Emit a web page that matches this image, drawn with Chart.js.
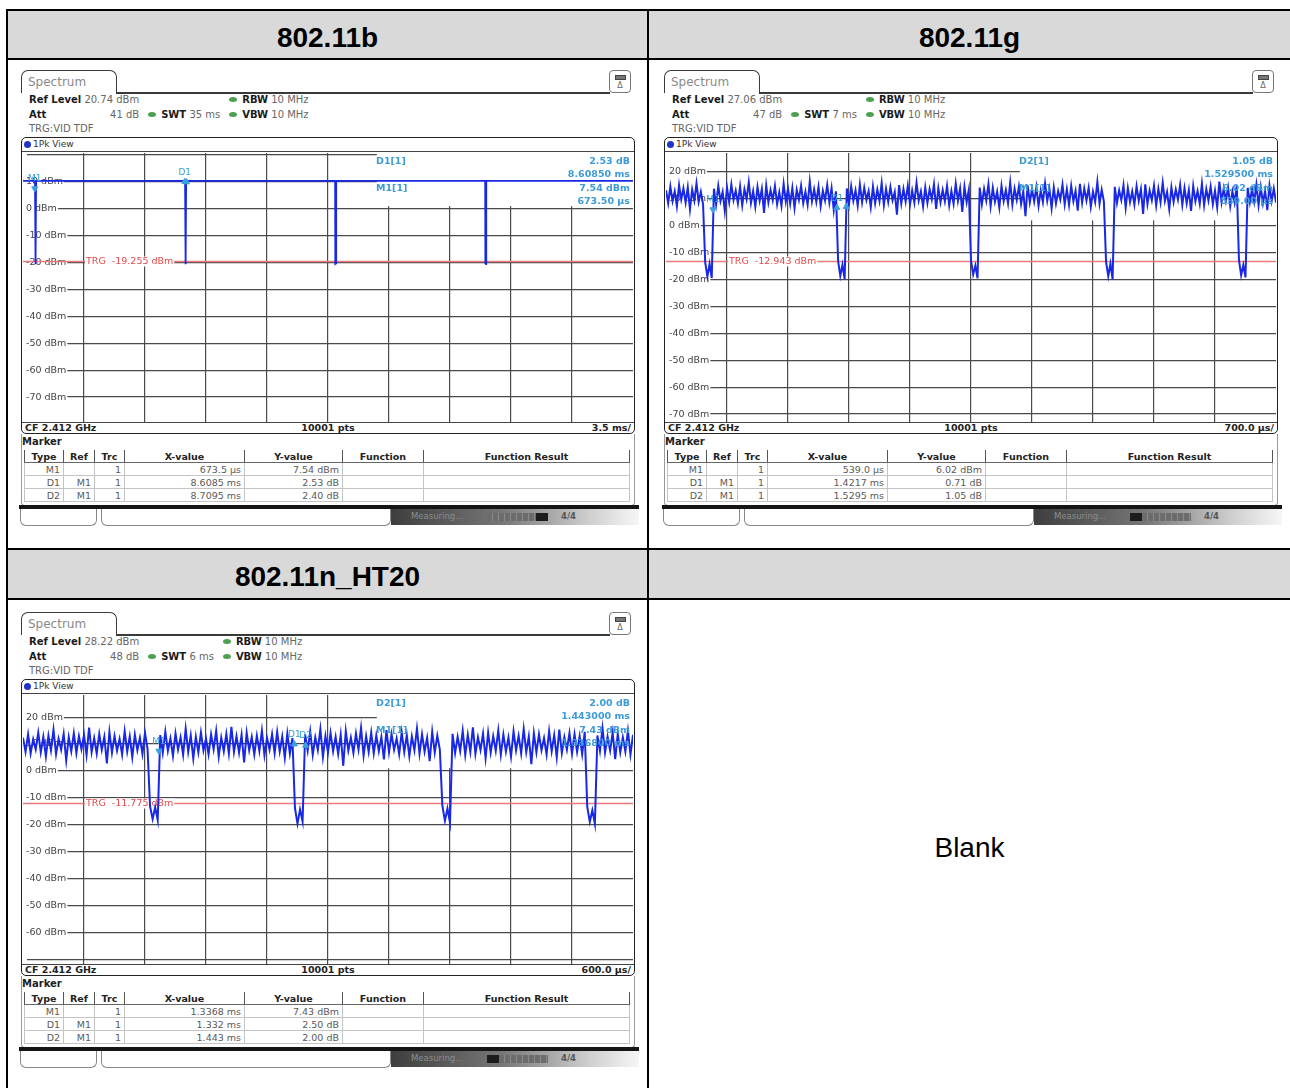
<!DOCTYPE html>
<html>
<head>
<meta charset="utf-8">
<title>WLAN duty cycle plots</title>
<script src="https://cdn.jsdelivr.net/npm/chart.js@4.4.1/dist/chart.umd.min.js"></script>
<style>
  body { margin:0; width:1290px; height:1088px; overflow:hidden; background:#fff; position:relative; font-family:"DejaVu Sans", sans-serif; }
  .bar { position:absolute; background:#000; }
  .head { position:absolute; background:#d9d9d9; text-align:center; font:bold 28px "Liberation Sans", Arial, sans-serif; color:#000; }
  .blank { position:absolute; text-align:center; font:28px "Liberation Sans", Arial, sans-serif; color:#000; }
  .panel { position:absolute; width:620px; height:462px; font-size:10px; color:#555; }
  .tab { position:absolute; left:2px; top:2px; width:96px; height:23px; border:1.5px solid #3a3a3a; border-bottom:none; border-radius:7px 7px 0 0; box-sizing:border-box; color:#8a8a8a; font-size:12px; line-height:22px; padding-left:6px; }
  .tabline { position:absolute; left:97px; top:24px; width:494px; height:1.5px; background:#3a3a3a; }
  .icon { position:absolute; left:590px; top:2px; width:22px; height:23px; border:1px solid #777; border-radius:4px; box-sizing:border-box; text-align:center; font-size:8px; line-height:8px; color:#666; }
  .icon i { display:block; width:9px; height:3px; margin:4px auto 2px; background:#777; border:1px solid #444; }
  .info { position:absolute; left:10px; top:25px; display:grid; grid-template-columns:auto auto auto; column-gap:9px; line-height:14.5px; color:#666; white-space:nowrap; }
  .info b { color:#1a1a1a; }
  .info .sp { display:flex; justify-content:space-between; }
  .info .full { grid-column:1 / 4; }
  .dot { display:inline-block; width:8px; height:5px; border-radius:50%; background:#4ea04e; margin-right:5px; vertical-align:1px; }
  .frame { position:absolute; left:2px; top:69px; width:614px; height:297px; border:1.5px solid #222; border-radius:5px; box-sizing:border-box; }
  .view { position:absolute; left:5px; top:70px; height:13px; line-height:13px; font-size:9px; color:#333; }
  .view i { display:inline-block; width:7px; height:7px; border-radius:50%; background:#2233c8; margin-right:2px; vertical-align:-1px; }
  .hl { position:absolute; left:3px; width:612px; height:1px; background:#444; }
  .plot { position:absolute; left:4px; top:85px; width:610px; height:269px; }
  .plot canvas { position:absolute; left:0; top:0; }
  .ro { position:absolute; font-weight:bold; font-size:9.5px; color:#3d9bd8; line-height:13px; white-space:nowrap; }
  .foot { position:absolute; left:3px; top:355px; width:612px; height:11px; font-weight:bold; font-size:9.5px; color:#222; line-height:10px; }
  .foot span { position:absolute; top:0; }
  .mbox { position:absolute; left:2px; top:366px; width:614px; height:72px; border:1px solid #999; border-top:none; border-radius:0 0 4px 4px; box-sizing:border-box; }
  .mlabel { position:absolute; left:3px; top:368px; font-weight:bold; color:#222; line-height:12px; }
  .mtab { position:absolute; left:5px; top:382px; width:606px; border-collapse:collapse; table-layout:fixed; font-size:9.5px; }
  .mtab th { height:12px; line-height:11px; padding:0; font-weight:bold; color:#222; border-left:1.5px solid #555; border-bottom:1.5px solid #666; }
  .mtab th:last-child { border-right:1.5px solid #555; }
  .mtab td { height:12px; line-height:11px; padding:0 3px; text-align:right; color:#5a5a5a; border:1px solid #c4c4c4; }
  .black { position:absolute; left:0; top:437px; width:620px; height:4px; background:#151515; }
  .sb { position:absolute; top:441px; height:17px; border:1px solid #888; border-top:none; border-radius:0 0 6px 6px; box-sizing:border-box; }
  .grad { position:absolute; left:372px; top:441px; width:248px; height:16px; background:linear-gradient(to right,#3e3e3e,#777 45%,#cfcfcf 80%,#f6f6f6); color:#8c8c8c; font-size:8.5px; line-height:14px; }
  .prog { position:absolute; top:4px; left:96px; width:61px; height:8px; background:repeating-linear-gradient(to right,#6c6c6c 0 5px,#8a8a8a 5px 6px); }
  .prog i { position:absolute; top:0; width:12px; height:8px; background:#1c1c1c; }
</style>
</head>
<body>
<script>
// ---- reference data -------------------------------------------------------
const standards  = ['802.11b', '802.11g', '802.11n_HT20'];
const refLevels  = [20.74, 27.06, 28.22];          // dBm, top of the display
const attLevels  = ['41 dB', '47 dB', '48 dB'];
const sweepTimes = ['35 ms', '7 ms', '6 ms'];
const sweepSpans = [35, 7, 6];                     // ms across the 10 divisions
const divLabels  = ['3.5 ms/', '700.0 µs/', '600.0 µs/'];
const trgLevels  = [-19.255, -12.943, -11.775];    // video trigger level, dBm

// 802.11b: steady burst level, short gaps down to the floor
const b_times  = [0, 0.69, 0.70, 0.74, 0.75, 9.30, 9.31, 9.35, 9.36, 17.91, 17.92, 17.96, 17.97, 26.52, 26.53, 26.57, 26.58, 35];
const b_levels = [10.4, 10.4, -20.3, -20.6, 10.4, 10.4, -20.4, -20.6, 10.4, 10.4, -20.5, -20.3, 10.4, 10.4, -20.4, -20.6, 10.4, 10.4];

// 802.11g: peak trace, one value every 25 us
const g_step = 0.025;
const g_levels = [
  13.2, 8.4, 14.6, 9.1, 12.8, 7.2, 15.1, 9.8, 13.9, 8.6,
  14.3, 6.1, 13.5, 9.4, 15.8, 8.9, 12.7, 8.1, -13.6, -18.9,
  -14.2, -19.4, 13.8, 7.9, 14.9, 9.2, 12.6, 5.4, 14.2, 8.8,
  15.4, 9.6, 13.1, 8.3, 14.7, 7.6, 13.6, 9.9, 16.2, 8.5,
  12.9, 7.1, 14.4, 9.3, 13.7, 4.8, 15.0, 8.7, 13.3, 9.5,
  14.8, 8.0, 12.5, 7.4, 15.6, 9.0, 13.8, 8.2, 14.1, 6.6,
  13.4, 9.7, 14.9, 8.4, 12.7, 7.8, 16.5, 9.1, 13.6, 8.9,
  14.5, 7.3, 13.0, 9.4, 15.2, 8.6, 14.0, 5.9, 12.8, -13.1,
  -18.6, -14.5, -19.8, 13.9, 8.1, 14.7, 9.3, 13.2, 7.5, 15.3,
  8.8, 14.2, 9.6, 12.9, 6.9, 14.6, 8.4, 13.5, 9.2, 15.9,
  7.7, 13.8, 8.9, 14.4, 9.5, 12.6, 4.1, 15.1, 8.3, 13.7,
  9.0, 14.9, 7.9, 13.1, 8.6, 16.0, 9.4, 12.8, 7.2, 14.3,
  8.5, 13.6, 9.8, 15.4, 6.3, 14.0, 8.7, 13.3, 9.1, 14.8,
  7.6, 12.9, 8.2, 15.7, 9.3, 13.9, 5.2, 14.5, 8.8, 13.4,
  -12.9, -18.1, -14.8, -19.5, 14.2, 8.0, 13.7, 9.4, 15.5, 7.3,
  14.1, 8.9, 12.7, 6.8, 14.9, 9.2, 13.3, 8.4, 16.1, 7.9,
  13.8, 9.6, 14.6, 8.1, 12.8, 3.6, 15.0, 8.7, 13.5, 9.0,
  14.4, 7.4, 13.1, 8.8, 15.8, 9.3, 13.7, 6.5, 14.2, 8.3,
  12.9, 9.7, 15.3, 8.0, 13.6, 7.7, 14.8, 9.1, 13.0, 5.6,
  15.6, 8.6, 13.9, 9.4, 14.1, 7.1, 12.7, 8.9, 16.3, 8.2,
  13.4, 9.0, -13.4, -18.7, -14.1, -19.9, 14.5, 8.5, 13.2, 9.6,
  15.1, 6.7, 14.0, 8.8, 12.8, 7.9, 14.7, 9.3, 13.6, 4.4,
  15.4, 8.1, 13.1, 9.5, 14.9, 7.5, 13.8, 8.7, 16.0, 9.2,
  12.6, 6.2, 14.3, 8.9, 13.5, 9.7, 15.2, 7.8, 14.0, 8.4,
  13.3, 5.5, 14.8, 9.1, 12.9, 8.2, 15.7, 7.6, 13.7, 9.4,
  14.6, 8.0, 13.0, 6.9, 16.4, 8.8, 13.9, 9.3, 14.2, 7.3,
  12.8, 8.6, 15.0, -12.7, -18.4, -14.6, -19.2, 14.1, 8.7, 13.6,
  9.0, 15.3, 7.7, 14.4, 8.4, 13.1, 5.8, 14.9, 9.2, 13.8, 8.6
];

// 802.11n HT20: same kind of trace, 6 ms sweep
const n_step = 0.025;
const n_levels = [
  12.4, 7.1, 13.6, 6.5, 11.8, 8.0, 14.2, 6.9, 12.7, 5.4,
  13.1, 7.6, 15.3, 6.2, 12.0, 7.9, 13.8, 3.9, 12.5, 7.3,
  14.0, 6.6, 12.9, 8.1, 13.4, 5.9, 16.1, 7.0, 12.2, 6.4,
  13.7, 7.8, 12.6, 2.8, 14.5, 6.8, 13.0, 7.5, 11.9, 6.1,
  14.8, 7.2, 12.8, 5.1, 13.5, 7.7, 12.3, 6.3, 14.1, 8.2,
  -13.2, -17.9, -13.5, -18.3, 13.3, 6.7, 14.6, 7.4, 12.1, 5.6,
  13.9, 7.9, 12.5, 6.0, 15.7, 7.1, 13.2, 4.6, 12.7, 6.9,
  14.3, 7.6, 12.0, 6.2, 13.6, 8.0, 14.9, 5.3, 12.4, 7.3,
  13.8, 6.5, 16.4, 7.0, 12.9, 6.8, 13.4, 3.2, 14.2, 7.7,
  12.6, 6.1, 13.1, 7.4, 15.0, 5.8, 12.3, 7.9, 13.7, 6.6,
  14.5, 7.2, 12.8, 4.9, 13.9, 6.4, 12.2, -13.8, -19.6, -14.3,
  -18.8, 13.6, 7.5, 14.7, 6.0, 12.5, 7.8, 15.5, 5.2, 13.0,
  6.9, 14.1, 7.3, 12.7, 6.3, 13.5, 1.9, 14.8, 7.6, 12.4,
  6.7, 13.9, 8.0, 16.0, 5.7, 12.9, 7.1, 14.3, 6.5, 13.2,
  7.4, 12.6, 4.3, 15.2, 6.9, 13.7, 7.8, 12.1, 6.2, 14.4,
  7.0, 13.3, 5.5, 12.8, 7.7, 15.8, 6.4, 13.6, 7.2, 12.3,
  3.6, 14.6, 6.8, 13.1, 7.9, -12.9, -18.5, -14.0, -19.3, 13.8,
  6.6, 12.7, 7.4, 14.9, 5.9, 13.4, 7.1, 16.2, 6.3, 12.5,
  7.8, 13.9, 4.7, 14.2, 6.8, 12.9, 7.5, 15.1, 6.0, 13.5,
  7.2, 12.4, 5.3, 14.7, 7.6, 13.0, 6.5, 15.6, 7.0, 12.8,
  2.5, 14.0, 6.9, 13.6, 7.7, 12.2, 6.1, 14.8, 7.3, 13.3,
  5.0, 15.4, 6.7, 12.6, 7.9, 14.1, 6.4, 13.7, 7.1, 12.9,
  6.2, 14.5, -13.4, -18.9, -14.6, -19.7, 13.2, 7.4, 15.9, 6.8,
  12.7, 7.6, 14.3, 4.4, 13.8, 6.9, 12.5, 7.2, 14.9, 6.1,
  13.4
];

// markers: M1 absolute, D1/D2 relative to M1
const markNames = ['M1', 'D1', 'D2'];
const b_markX = [0.6735, 9.282, 9.383];
const b_markY = [7.54, 10.07, 9.94];
const g_markX = [0.539, 1.9607, 2.0685];
const g_markY = [6.02, 6.73, 7.07];
const n_markX = [1.3368, 2.6688, 2.7798];
const n_markY = [7.43, 9.93, 9.43];

const b_readout = [['D1[1]', '2.53 dB', '8.60850 ms'], ['M1[1]', '7.54 dBm', '673.50 µs']];
const g_readout = [['D2[1]', '1.05 dB', '1.529500 ms'], ['M1[1]', '6.02 dBm', '539.00 µs']];
const n_readout = [['D2[1]', '2.00 dB', '1.443000 ms'], ['M1[1]', '7.43 dBm', '1.336800 ms']];

const tableHead = ['Type', 'Ref', 'Trc', 'X-value', 'Y-value', 'Function', 'Function Result'];
const b_table = [['M1', '', '1', '673.5 µs', '7.54 dBm'], ['D1', 'M1', '1', '8.6085 ms', '2.53 dB'], ['D2', 'M1', '1', '8.7095 ms', '2.40 dB']];
const g_table = [['M1', '', '1', '539.0 µs', '6.02 dBm'], ['D1', 'M1', '1', '1.4217 ms', '0.71 dB'], ['D2', 'M1', '1', '1.5295 ms', '1.05 dB']];
const n_table = [['M1', '', '1', '1.3368 ms', '7.43 dBm'], ['D1', 'M1', '1', '1.332 ms', '2.50 dB'], ['D2', 'M1', '1', '1.443 ms', '2.00 dB']];

// ---- page layout ------------------------------------------------------------
function el(cls, css, html) {
  const d = document.createElement('div');
  d.className = cls;
  if (css) d.style.cssText = css;
  if (html) d.innerHTML = html;
  document.body.appendChild(d);
  return d;
}

// table grid of the report
el('head', 'left:8px;top:11px;width:639px;height:47px;line-height:53px', standards[0]);
el('head', 'left:649px;top:11px;width:641px;height:47px;line-height:53px', standards[1]);
el('head', 'left:8px;top:550px;width:639px;height:48px;line-height:54px', standards[2]);
el('head', 'left:649px;top:550px;width:641px;height:48px');
el('blank', 'left:649px;top:830px;width:641px;line-height:36px', 'Blank');
el('bar', 'left:6px;top:9px;width:1284px;height:2px');
el('bar', 'left:6px;top:58px;width:1284px;height:2px');
el('bar', 'left:6px;top:548px;width:1284px;height:2px');
el('bar', 'left:6px;top:598px;width:1284px;height:2px');
el('bar', 'left:6px;top:9px;width:2px;height:1079px');
el('bar', 'left:647px;top:9px;width:2px;height:1079px');

const panels = [
  { pos: [19, 68],  trace: b_times.map((t, i) => ({ x: t, y: b_levels[i] })), lw: 1.8,
    markX: b_markX, markY: b_markY, readout: b_readout, table: b_table, boxBottom: 1, progRight: true },
  { pos: [662, 68], trace: g_levels.map((v, i) => ({ x: i * g_step, y: v })), lw: 2,
    markX: g_markX, markY: g_markY, readout: g_readout, table: g_table, boxBottom: 2, progRight: false },
  { pos: [19, 610], trace: n_levels.map((v, i) => ({ x: i * n_step, y: v })), lw: 2,
    markX: n_markX, markY: n_markY, readout: n_readout, table: n_table, boxBottom: 1, progRight: false }
];

panels.forEach((p, i) => {
  p.ref = refLevels[i];
  p.span = sweepSpans[i];
  p.trg = trgLevels[i];

  const dot = '<i class="dot"></i>';
  const rows = p.table.map(r => '<tr>' + r.map(c => `<td>${c}</td>`).join('') + '<td></td><td></td></tr>').join('');
  const ro = p.readout.map((r, k) => `
      <div class="ro" style="left:353px;top:${0.5 + k * 27}px">${r[0]}</div>
      <div class="ro" style="right:3px;top:${0.5 + k * 27}px">${r[1]}</div>
      <div class="ro" style="right:3px;top:${13.5 + k * 27}px">${r[2]}</div>`).join('');

  const panel = el('panel', `left:${p.pos[0]}px;top:${p.pos[1]}px`, `
    <div class="tab">Spectrum</div>
    <div class="tabline"></div>
    <div class="icon"><i></i>&#916;</div>
    <div class="info">
      <div><b>Ref Level</b> ${p.ref.toFixed(2)} dBm</div><div></div><div>${dot}<b>RBW</b> 10 MHz</div>
      <div class="sp"><b>Att</b><span>${attLevels[i]}</span></div><div>${dot}<b>SWT</b> ${sweepTimes[i]}</div><div>${dot}<b>VBW</b> 10 MHz</div>
      <div class="full">TRG:VID TDF</div>
    </div>
    <div class="frame"></div>
    <div class="view"><i></i>1Pk View</div>
    <div class="hl" style="top:83px"></div>
    <div class="plot"><canvas width="610" height="269"></canvas>${ro}</div>
    <div class="hl" style="top:354px"></div>
    <div class="foot"><span style="left:3px">CF 2.412 GHz</span><span style="left:306px;transform:translateX(-50%)">10001 pts</span><span style="right:3px">${divLabels[i]}</span></div>
    <div class="mbox"></div>
    <div class="mlabel">Marker</div>
    <table class="mtab">
      <colgroup><col style="width:39px"><col style="width:31px"><col style="width:30px"><col style="width:120px"><col style="width:98px"><col style="width:81px"><col></colgroup>
      <tr>${tableHead.map(h => `<th>${h}</th>`).join('')}</tr>
      ${rows}
    </table>
    <div class="black"></div>
    <div class="sb" style="left:1px;width:77px"></div>
    <div class="sb" style="left:82px;width:290px"></div>
    <div class="grad"><span style="margin-left:20px">Measuring...</span>
      <div class="prog"><i style="${p.progRight ? 'right:0' : 'left:0'}"></i></div>
      <span style="position:absolute;left:170px;top:0;color:#555;font-weight:bold">4/4</span></div>
  `);

  makeChart(panel.querySelector('canvas'), p);
});

// ---- the analyzer screen ------------------------------------------------------
function noPad(s) {
  s.paddingTop = s.paddingBottom = s.paddingLeft = s.paddingRight = 0;
}

function makeChart(canvas, p) {
  const lo = p.ref - 100;
  const gridValues = [];
  for (let v = Math.ceil(lo / 10) * 10; v <= p.ref; v += 10) gridValues.push(v);

  const screen = {
    id: 'screen',
    beforeDatasetsDraw(chart) {
      const { ctx, chartArea: a, scales: { x, y } } = chart;
      ctx.save();
      // marker readout field hides the grid in the upper right corner
      const bx = x.getPixelForValue(p.span * 0.58);
      ctx.fillStyle = '#fff';
      ctx.fillRect(bx, a.top, a.right - bx, y.getPixelForValue(p.boxBottom) - a.top);
      // trigger level line and its label
      const ty = Math.round(y.getPixelForValue(p.trg)) + 0.5;
      ctx.strokeStyle = '#ec7a7a';
      ctx.lineWidth = 1.5;
      ctx.beginPath(); ctx.moveTo(a.left, ty); ctx.lineTo(a.right, ty); ctx.stroke();
      ctx.font = '9.5px "DejaVu Sans"';
      ctx.textBaseline = 'middle';
      const txt = 'TRG  ' + p.trg.toFixed(3) + ' dBm';
      const tx = x.getPixelForValue(p.span / 10) + 2;
      ctx.fillStyle = '#fff';
      ctx.fillRect(tx - 1, ty - 5, ctx.measureText(txt).width + 2, 10);
      ctx.fillStyle = '#e34a4a';
      ctx.fillText(txt, tx, ty);
      ctx.restore();
    },
    afterDatasetsDraw(chart) {
      const ctx = chart.ctx;
      ctx.save();
      ctx.font = '9px "DejaVu Sans"';
      ctx.fillStyle = '#3aa0e0';
      ctx.textAlign = 'center';
      ctx.textBaseline = 'bottom';
      const pts = chart.getDatasetMeta(1).data;
      const drawn = [];
      pts.forEach((pt, k) => {
        if (drawn.some(dx => Math.abs(dx - pt.x) < 10)) return;   // labels would sit on top of each other
        drawn.push(pt.x);
        ctx.fillText(markNames[k], pt.x, pt.y - 5);
      });
      ctx.restore();
    }
  };

  new Chart(canvas, {
    type: 'line',
    data: {
      datasets: [
        { data: p.trace, borderColor: 'rgb(24,40,228)', borderWidth: p.lw, pointRadius: 0, tension: 0, order: 2 },
        { type: 'scatter', data: p.markX.map((x, k) => ({ x: x, y: p.markY[k] })),
          pointStyle: 'triangle', pointRadius: 3.5, pointRotation: p.markX.map((x, k) => k === 0 ? 180 : 0),
          backgroundColor: '#3aa0e0', borderColor: '#3aa0e0', order: 1 }
      ]
    },
    options: {
      responsive: false,
      animation: false,
      events: [],
      layout: { padding: 0, autoPadding: false },
      plugins: { legend: { display: false }, tooltip: { enabled: false } },
      scales: {
        x: {
          type: 'linear', min: 0, max: p.span,
          afterBuildTicks: s => { s.ticks = [1, 2, 3, 4, 5, 6, 7, 8, 9].map(k => ({ value: k * p.span / 10 })); },
          afterFit: s => { s.height = 0; noPad(s); },
          ticks: { display: false },
          grid: { color: '#4a4a4a', lineWidth: 1.2, drawTicks: false },
          border: { display: false }
        },
        y: {
          type: 'linear', min: lo, max: p.ref,
          afterBuildTicks: s => { s.ticks = gridValues.map(v => ({ value: v })); },
          afterFit: s => { s.width = 0; noPad(s); },
          ticks: {
            mirror: true, padding: 3, color: '#444',
            font: { family: 'DejaVu Sans', size: 9.5 },
            callback: v => (p.ref - v < 2.5 || v - lo < 2.5) ? '' : v + ' dBm',
            showLabelBackdrop: true, backdropColor: '#fff',
            backdropPadding: { left: 4, right: 1, top: 0, bottom: 0 }
          },
          grid: { color: '#4a4a4a', lineWidth: 1.2, drawTicks: false },
          border: { display: false }
        }
      }
    },
    plugins: [screen]
  });
}
</script>
</body>
</html>
